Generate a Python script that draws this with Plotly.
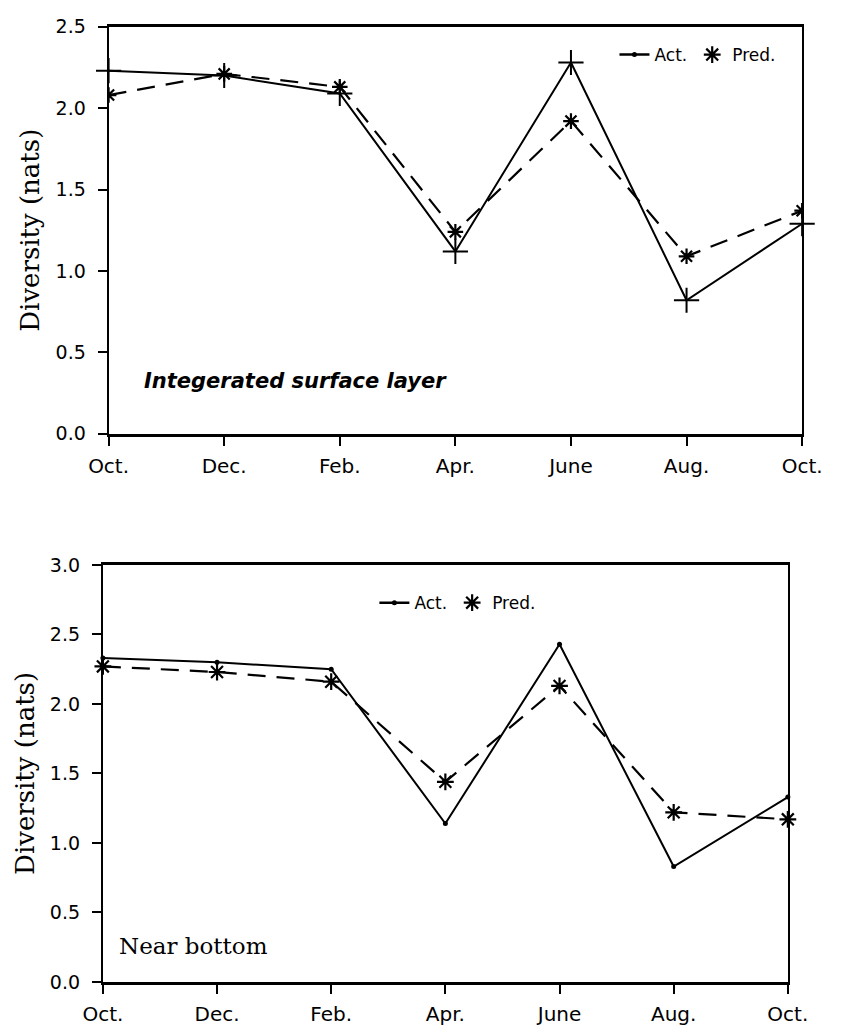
import plotly.graph_objects as go

months = ["Oct.", "Dec.", "Feb.", "Apr.", "June", "Aug.", "Oct."]
xpos = [0, 1, 2, 3, 4, 5, 6]

surf_act = [2.23, 2.20, 2.09, 1.12, 2.28, 0.82, 1.29]
surf_pred = [2.08, 2.21, 2.13, 1.24, 1.92, 1.09, 1.37]
bot_act = [2.33, 2.30, 2.25, 1.14, 2.43, 0.83, 1.33]
bot_pred = [2.27, 2.23, 2.16, 1.44, 2.13, 1.22, 1.17]

W, H = 845, 1035
fig = go.Figure()

def px_x(p):
    return p / W

def px_y(p):
    return 1 - p / H

DASH = "18px,11px"

fig.add_trace(go.Scatter(x=xpos, y=surf_act, mode="lines+markers", xaxis="x", yaxis="y",
                         line=dict(color="black", width=2),
                         marker=dict(symbol="cross-thin-open", size=18, color="black",
                                     line=dict(color="black", width=2)),
                         showlegend=False, cliponaxis=False))
fig.add_trace(go.Scatter(x=xpos, y=surf_pred, mode="lines+markers", xaxis="x", yaxis="y",
                         line=dict(color="black", width=2.2, dash=DASH),
                         marker=dict(symbol="asterisk-open", size=13, color="black",
                                     line=dict(color="black", width=2.2)),
                         showlegend=False, cliponaxis=True))
fig.add_trace(go.Scatter(x=xpos, y=bot_act, mode="lines+markers", xaxis="x2", yaxis="y2",
                         line=dict(color="black", width=2),
                         marker=dict(symbol="circle", size=5, color="black"),
                         showlegend=False, cliponaxis=False))
fig.add_trace(go.Scatter(x=xpos, y=bot_pred, mode="lines+markers", xaxis="x2", yaxis="y2",
                         line=dict(color="black", width=2.2, dash=DASH),
                         marker=dict(symbol="asterisk-open", size=14, color="black",
                                     line=dict(color="black", width=2.2)),
                         showlegend=False, cliponaxis=False))

for lg in ["legend", "legend2"]:
    fig.add_trace(go.Scatter(x=[None], y=[None], mode="lines+markers", name="Act.",
                             line=dict(color="black", width=2.5),
                             marker=dict(symbol="circle", size=5, color="black"),
                             legend=lg, showlegend=True))
    fig.add_trace(go.Scatter(x=[None], y=[None], mode="markers", name="Pred.",
                             marker=dict(symbol="asterisk-open", size=14, color="black",
                                         line=dict(color="black", width=2.2)),
                             legend=lg, showlegend=True))

xtickfont = dict(family="DejaVu Sans", size=20, color="black")
ytickfont = dict(family="DejaVu Sans", size=19, color="black")
axis_common = dict(showline=True, linecolor="black", mirror=True,
                   ticks="outside", ticklen=9, tickwidth=1.5, tickcolor="black",
                   showgrid=False, zeroline=False)

title_font = dict(family="DejaVu Serif", size=26, color="black")
legfont = dict(family="DejaVu Sans", size=17, color="black")

fig.update_layout(
    width=W, height=H,
    margin=dict(l=0, r=0, t=0, b=0),
    paper_bgcolor="white", plot_bgcolor="white",
    xaxis=dict(domain=[px_x(93), px_x(821)], anchor="y", range=[0, 6], linewidth=2.5,
               tickvals=xpos, ticktext=months, ticklabelstandoff=3, tickfont=xtickfont,
               **axis_common),
    yaxis=dict(domain=[px_y(432), px_y(16)], anchor="x", range=[0, 2.5], linewidth=2,
               tickvals=[0, 0.5, 1.0, 1.5, 2.0, 2.5], tickformat=".1f", ticklabelstandoff=8,
               tickfont=ytickfont,
               title=dict(text="Diversity (nats)", font=title_font, standoff=8), **axis_common),
    xaxis2=dict(domain=[px_x(87), px_x(806)], anchor="y2", range=[0, 6], linewidth=2.5,
                tickvals=xpos, ticktext=months, ticklabelstandoff=3, tickfont=xtickfont,
                **axis_common),
    yaxis2=dict(domain=[px_y(992), px_y(566)], anchor="x2", range=[0, 3.0], linewidth=2,
                tickvals=[0, 0.5, 1.0, 1.5, 2.0, 2.5, 3.0], tickformat=".1f", ticklabelstandoff=8,
                tickfont=ytickfont,
                title=dict(text="Diversity (nats)", font=title_font, standoff=8), **axis_common),
    legend=dict(x=px_x(624), y=px_y(45), xanchor="left", yanchor="middle", orientation="h",
                font=legfont, bgcolor="rgba(0,0,0,0)", itemwidth=30, tracegroupgap=0),
    legend2=dict(x=px_x(372), y=px_y(605), xanchor="left", yanchor="middle", orientation="h",
                 font=legfont, bgcolor="rgba(0,0,0,0)", itemwidth=30, tracegroupgap=0),
    annotations=[
        dict(text="<b><i>Integerated surface layer</i></b>", xref="paper", yref="paper",
             x=px_x(128), y=px_y(378), xanchor="left", yanchor="middle", showarrow=False,
             font=dict(family="DejaVu Sans", size=21, color="black")),
        dict(text="Near bottom", xref="paper", yref="paper",
             x=px_x(102), y=px_y(955), xanchor="left", yanchor="middle", showarrow=False,
             font=dict(family="DejaVu Serif", size=23, color="black")),
    ],
)

fig.write_html("out.html")
